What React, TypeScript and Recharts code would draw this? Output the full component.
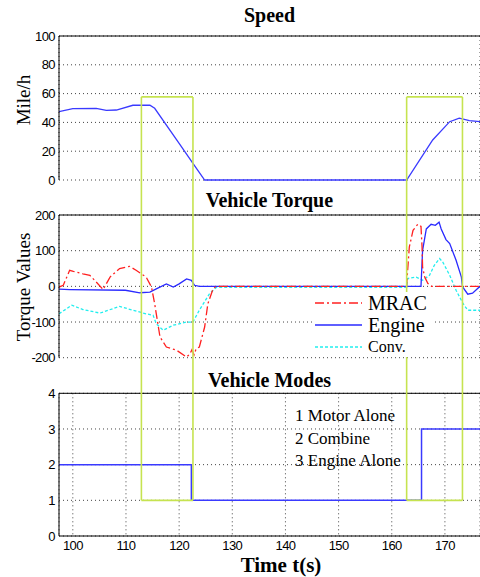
import React from "react";
import {
  LineChart,
  Line,
  XAxis,
  YAxis,
  CartesianGrid,
  ReferenceLine,
} from "recharts";

// time axis (s)
const tMin = 97.4;
const tMax = 176.6;
const timeTicks = [100, 110, 120, 130, 140, 150, 160, 170];

// speed (mile/h)
const speedTime = [97.4, 100, 104.4, 106.3, 108.2, 111.3, 114.5, 115.4, 120, 122.6, 124.8, 162.8, 167.7, 170.9, 172.7, 174.6, 176.6];
const speedMph = [47.5, 49.5, 49.8, 48.4, 48.6, 51.9, 51.9, 49.8, 25.5, 11.6, 0, 0, 27.8, 40.5, 43, 41.2, 40.5];

// torque
const mracTime = [97.4, 98.2, 99.4, 100.1, 101.9, 103.2, 104.1, 105.7, 107.0, 108.8, 110.7, 111.9, 113.8, 114.8, 115.4, 116.4, 117.6, 119.5, 121.4, 122.0, 122.4, 122.8, 123.2, 123.8, 124.8, 125.4, 126.4, 127.0, 162.8, 162.9, 163.3, 164.0, 164.9, 165.5, 165.7, 165.8, 166.2, 166.8, 167.5, 176.6];
const mracTorque = [-2, 3, 45, 42, 35, 31, 17, -9, 26, 50, 56, 45, 26, -2, -49, -142, -170, -179, -198, -190, -178, -192, -175, -170, -114, -49, -6, 0, 0, 26, 110, 157, 174, 168, 110, 54, 26, 8, 0, 0];

const engineTime = [97.4, 99.4, 109.9, 112.6, 114.5, 115.7, 117.6, 118.9, 120.0, 121.4, 122.3, 122.9, 123.8, 165.5, 165.8, 166.5, 167.4, 168.2, 168.9, 169.3, 170.2, 170.9, 172.1, 173.1, 173.3, 174.3, 175.2, 176.6];
const engineTorque = [-8, -9, -11, -18, -16, -7, 7, -2, 7, 21, 17, 3, 0, 0, 101, 161, 174, 171, 180, 161, 131, 120, 73, 26, -1, -22, -19, 0];

const convTime = [97.4, 99.8, 101.9, 105.1, 108.8, 111.3, 113.8, 115.1, 115.7, 117.0, 118.9, 121.4, 122.6, 123.8, 125.7, 127.0, 162.8, 163.0, 164.6, 165.8, 167.1, 168.0, 169.0, 169.6, 170.9, 172.1, 173.4, 174.3, 176.6];
const convTorque = [-77, -53, -65, -75, -56, -67, -77, -81, -105, -123, -109, -100, -100, -67, -21, -3, -3, 22, 26, 17, 31, 59, 78, 68, 31, -11, -48, -67, -67];

// vehicle mode
const modeTime = [97.4, 122.3, 165.6, 176.6];
const modeValue = [2, 1, 3, 3];
const modeNames = ["1 Motor Alone", "2 Combine", "3 Engine Alone"];

// green highlight boxes
const boxStart = [112.9, 162.8];
const boxEnd = [122.6, 173.3];
const boxTop = 57.7; // in speed units
const boxBottom = 1; // in mode units

const zip = (t: number[], v: number[]) => t.map((x, i) => ({ t: x, v: v[i] }));

const speedData = zip(speedTime, speedMph);
const mracData = zip(mracTime, mracTorque);
const engineData = zip(engineTime, engineTorque);
const convData = zip(convTime, convTorque);
const modeData = zip(modeTime, modeValue);

const GREEN = "#c6e350";
const serif = "'Liberation Serif', 'Times New Roman', serif";
const sans = "'Liberation Sans', Arial, sans-serif";
const tickStyle = { fontSize: 13, fill: "#000", fontFamily: sans, letterSpacing: -0.6 };

const greenSides = (lo: number, hi: number) =>
  boxStart.flatMap((s, i) => [
    <ReferenceLine
      key={"l" + i}
      segment={[{ x: s, y: lo }, { x: s, y: hi }]}
      stroke={GREEN}
      strokeWidth={1.6}
      ifOverflow="visible"
    />,
    <ReferenceLine
      key={"r" + i}
      segment={[{ x: boxEnd[i], y: lo }, { x: boxEnd[i], y: hi }]}
      stroke={GREEN}
      strokeWidth={1.6}
      ifOverflow="visible"
    />,
  ]);

const greenEdge = (y: number) =>
  boxStart.map((s, i) => (
    <ReferenceLine
      key={"h" + i}
      segment={[{ x: s, y }, { x: boxEnd[i], y }]}
      stroke={GREEN}
      strokeWidth={1.6}
      ifOverflow="visible"
    />
  ));

const yLabel = (text: string, cy: number) => ({
  content: () => (
    <text
      x={23}
      y={cy}
      transform={`rotate(-90, 23, ${cy})`}
      textAnchor="middle"
      dominantBaseline="central"
      fontFamily={serif}
      fontSize={19}
      fill="#000"
    >
      {text}
    </text>
  ),
});

const grid = <CartesianGrid stroke="#444" strokeDasharray="1 3" />;

function xAxis(showTicks: boolean) {
  return (
    <XAxis
      dataKey="t"
      type="number"
      domain={[tMin, tMax]}
      ticks={timeTicks}
      allowDataOverflow
      tick={showTicks ? tickStyle : false}
      tickLine={false}
      tickSize={4}
      tickMargin={1}
      height={showTicks ? 41 : 0}
      axisLine={{ stroke: "#000" }}
    />
  );
}

const titleStyle: React.CSSProperties = {
  position: "absolute",
  left: 59,
  width: 421,
  textAlign: "center",
  fontFamily: serif,
  fontWeight: "bold",
  fontSize: 20,
  lineHeight: "22px",
};

export default function App() {
  return (
    <div style={{ position: "absolute", left: 0, top: 0, width: 480, height: 577, overflow: "hidden", background: "#fff" }}>
      <div style={{ ...titleStyle, top: 4 }}>Speed</div>
      <div style={{ ...titleStyle, top: 189 }}>Vehicle Torque</div>
      <div style={{ ...titleStyle, top: 369 }}>Vehicle Modes</div>

      {/* speed */}
      <div style={{ position: "absolute", left: 0, top: 0 }}>
        <LineChart width={480} height={190} margin={{ top: 36, right: 0, left: 0, bottom: 10 }}>
          {grid}
          {xAxis(false)}
          <YAxis
            type="number"
            domain={[0, 100]}
            ticks={[0, 20, 40, 60, 80, 100]}
            width={59}
            tick={tickStyle}
            tickLine={false}
            tickSize={2}
            tickMargin={2}
            axisLine={{ stroke: "#000" }}
            label={yLabel("Mile/h", 100)}
          />
          <ReferenceLine y={100} stroke="#000" />
          <Line data={speedData} dataKey="v" stroke="#3a3aff" strokeWidth={1.3} dot={false} isAnimationActive={false} />
          {greenSides(-7.5, boxTop)}
          {greenEdge(boxTop)}
        </LineChart>
      </div>

      {/* torque */}
      <div style={{ position: "absolute", left: 0, top: 190 }}>
        <LineChart width={480} height={180} margin={{ top: 25, right: 0, left: 0, bottom: 12.3 }}>
          {grid}
          {xAxis(false)}
          <YAxis
            type="number"
            domain={[-200, 200]}
            ticks={[-200, -100, 0, 100, 200]}
            width={59}
            tick={tickStyle}
            tickLine={false}
            tickSize={2}
            tickMargin={2}
            axisLine={{ stroke: "#000" }}
            label={yLabel("Torque Values", 97)}
          />
          <ReferenceLine y={200} stroke="#000" />
          <Line data={convData} dataKey="v" stroke="#22eeee" strokeWidth={1.3} strokeDasharray="3 2" dot={false} isAnimationActive={false} />
          <Line data={engineData} dataKey="v" stroke="#2a2aff" strokeWidth={1.3} dot={false} isAnimationActive={false} />
          <Line data={mracData} dataKey="v" stroke="#ff2020" strokeWidth={1.3} strokeDasharray="9 3 2 3" dot={false} isAnimationActive={false} />
          {greenSides(-236, 272)}
        </LineChart>
      </div>

      {/* legend */}
      <div style={{ position: "absolute", left: 312, top: 292, width: 122, height: 65, background: "#fff", fontFamily: serif }}>
        {[
          { name: "MRAC", color: "#ff2020", dash: "9 3 2 3", size: 20 },
          { name: "Engine", color: "#2a2aff", dash: undefined, size: 20 },
          { name: "Conv.", color: "#22eeee", dash: "3 2", size: 16 },
        ].map((e) => (
          <div key={e.name} style={{ display: "flex", alignItems: "center", height: 22 }}>
            <svg width={56} height={10} style={{ flex: "none" }}>
              <line x1={3} y1={5} x2={50} y2={5} stroke={e.color} strokeWidth={1.5} strokeDasharray={e.dash} />
            </svg>
            <span style={{ fontSize: e.size, lineHeight: "22px" }}>{e.name}</span>
          </div>
        ))}
      </div>

      {/* modes */}
      <div style={{ position: "absolute", left: 0, top: 370 }}>
        <LineChart width={480} height={207} margin={{ top: 23.3, right: 0, left: 0, bottom: 0 }}>
          {grid}
          {xAxis(true)}
          <YAxis
            type="number"
            domain={[0, 4]}
            ticks={[0, 1, 2, 3, 4]}
            width={59}
            tick={tickStyle}
            tickLine={false}
            tickSize={2}
            tickMargin={2}
            axisLine={{ stroke: "#000" }}
          />
          <ReferenceLine y={4} stroke="#000" />
          <Line data={modeData} dataKey="v" type="stepAfter" stroke="#3a3aff" strokeWidth={1.5} dot={false} isAnimationActive={false} />
          {greenSides(boxBottom, 4.7)}
          {greenEdge(boxBottom)}
        </LineChart>
      </div>

      <div style={{ position: "absolute", left: 295, top: 405, fontFamily: serif, fontSize: 17, lineHeight: "22.7px" }}>
        {modeNames.map((m) => (
          <div key={m}>{m}</div>
        ))}
      </div>

      <div style={{ position: "absolute", left: 200, width: 162, top: 555, textAlign: "center", fontFamily: serif, fontWeight: "bold", fontSize: 21, lineHeight: "21px" }}>
        Time t(s)
      </div>
    </div>
  );
}
